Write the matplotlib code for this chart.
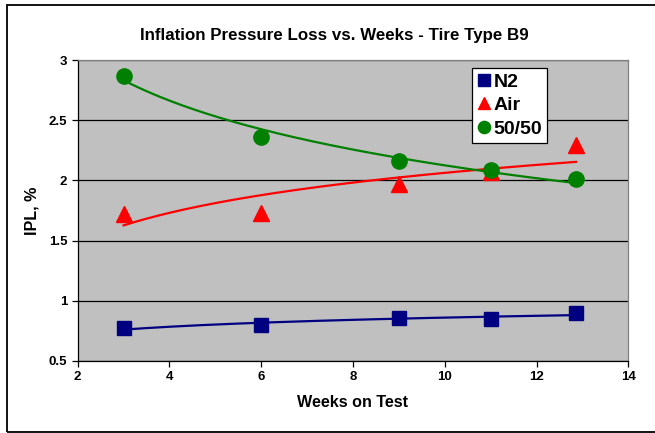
import numpy as np
import matplotlib
matplotlib.use("Agg")
import matplotlib.pyplot as plt
from matplotlib.patches import Rectangle

plt.rcParams["font.family"] = ["Liberation Sans", "DejaVu Sans"]
plt.rcParams["font.weight"] = "bold"

# data
weeks = [3, 6, 9, 11, 12.86]
ipl_n2 = [0.77, 0.80, 0.86, 0.85, 0.90]
ipl_air = [1.72, 1.73, 1.97, 2.07, 2.29]
ipl_mix = [2.87, 2.36, 2.16, 2.09, 2.01]

series = [
    ("N2", ipl_n2, "#000080", "s", 10.5),
    ("Air", ipl_air, "#ff0000", "^", 11.5),
    ("50/50", ipl_mix, "#008000", "o", 11),
]

fig = plt.figure(figsize=(6.55, 4.33), dpi=100)
ax = fig.add_axes([0.1186, 0.1663, 0.8406, 0.6951])
ax.set_facecolor("#c0c0c0")

x = np.array(weeks)
xs = np.linspace(x.min(), x.max(), 200)
for name, vals, color, marker, ms in series:
    # logarithmic trend line, like the spreadsheet one
    slope, icpt = np.polyfit(np.log(x), vals, 1)
    ax.plot(xs, slope * np.log(xs) + icpt, color=color, lw=1.6, zorder=3)
for name, vals, color, marker, ms in series:
    ax.plot(weeks, vals, linestyle="none", marker=marker, markersize=ms,
            color=color, label=name, zorder=4)

ax.set_xlim(2, 14)
ax.set_ylim(0.5, 3)
ax.set_xticks(range(2, 15, 2))
ax.set_yticks([0.5, 1, 1.5, 2, 2.5, 3])
ax.set_yticklabels(["0.5", "1", "1.5", "2", "2.5", "3"])
ax.yaxis.grid(True, color="black", lw=0.9)
ax.set_axisbelow(True)
ax.tick_params(direction="out", length=4, width=0.9, labelsize=9.5, colors="black")
for lab in ax.get_xticklabels() + ax.get_yticklabels():
    lab.set_fontweight("bold")
for side in ["top", "right"]:
    ax.spines[side].set_color("#808080")
for side in ["left", "bottom"]:
    ax.spines[side].set_color("black")
for sp in ax.spines.values():
    sp.set_linewidth(0.9)

ax.set_xlabel("Weeks on Test", fontsize=11.6, fontweight="bold", labelpad=8)
ax.set_ylabel("IPL, %", fontsize=11.6, fontweight="bold", labelpad=7)
fig.text(0.51, 0.918, "Inflation Pressure Loss vs. Weeks - Tire Type B9",
         ha="center", va="center", fontsize=12.2, fontweight="bold")

leg = ax.legend(loc="upper left", bbox_to_anchor=(0.7167, 0.9724),
                fancybox=False, framealpha=1, edgecolor="black",
                prop={"size": 14, "weight": "bold"}, handlelength=0.7,
                handletextpad=0.15, borderpad=0.25, labelspacing=0.3,
                borderaxespad=0, markerscale=0.8)
leg.get_frame().set_linewidth(0.9)

fig.patches.append(Rectangle((7 / 655, 1 / 433), 1.05, 427 / 433,
                             transform=fig.transFigure, fill=False,
                             edgecolor="black", lw=1.3, clip_on=False))

fig.savefig("out.png", dpi=100)
